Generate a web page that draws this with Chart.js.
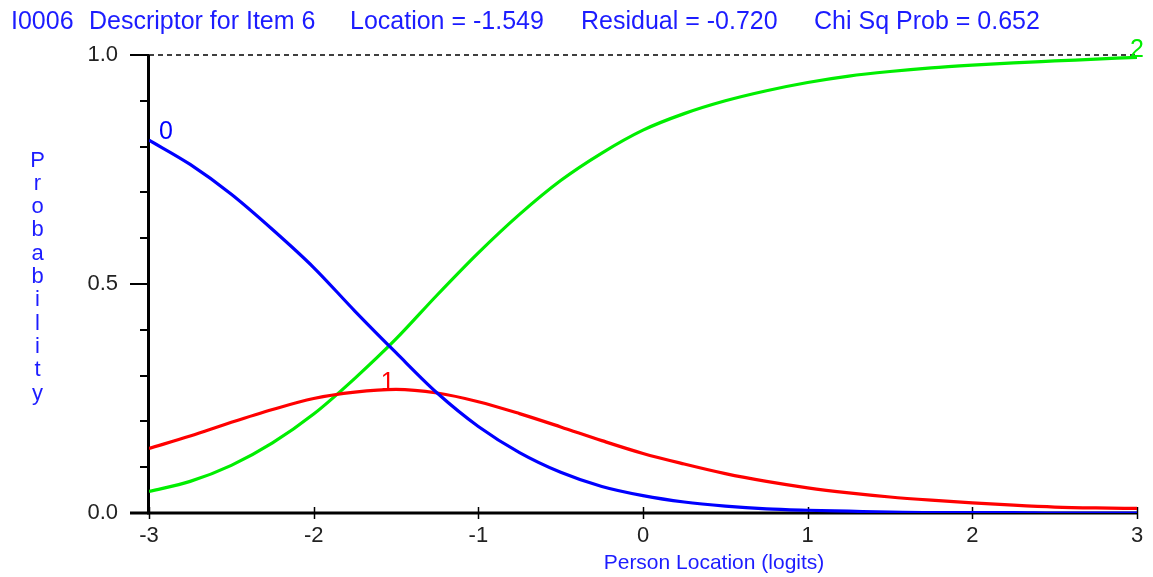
<!DOCTYPE html>
<html>
<head>
<meta charset="utf-8">
<script src="https://cdn.jsdelivr.net/npm/chart.js@4.4.1/dist/chart.umd.min.js"></script>
<style>
  html, body { margin: 0; padding: 0; background: #ffffff; }
  #wrap { width: 1153px; height: 577px; }
</style>
</head>
<body>
<div id="wrap"><canvas id="c" width="1153" height="577"></canvas></div>
<script>
// ---- data ----
const theta = [-3, -2.75, -2.5, -2.25, -2, -1.75, -1.5, -1.25, -1, -0.75, -0.5, -0.25, 0,
               0.25, 0.5, 0.75, 1, 1.25, 1.5, 1.75, 2, 2.25, 2.5, 2.75, 3];
const prob0 = [0.814, 0.761, 0.696, 0.619, 0.536, 0.441, 0.350, 0.262, 0.189, 0.132, 0.089, 0.058, 0.038,
               0.024, 0.015, 0.009, 0.006, 0.004, 0.002, 0.001, 0.001, 0.001, 0.000, 0.000, 0.000];
const prob1 = [0.141, 0.168, 0.198, 0.226, 0.250, 0.264, 0.270, 0.262, 0.243, 0.217, 0.188, 0.158, 0.130,
               0.107, 0.086, 0.069, 0.055, 0.044, 0.035, 0.028, 0.022, 0.017, 0.013, 0.011, 0.010];
const prob2 = [0.047, 0.069, 0.104, 0.153, 0.216, 0.294, 0.380, 0.476, 0.568, 0.652, 0.726, 0.786, 0.836,
               0.872, 0.900, 0.922, 0.940, 0.954, 0.964, 0.972, 0.978, 0.983, 0.987, 0.991, 0.995];
const seriesNames = ['0', '1', '2'];
const seriesColors = ['#0000ff', '#ff0000', '#00ee00'];
const yTickLabels = ['0.0', '0.5', '1.0'];
const yLabelValues = [0, 0.5, 1];
const titleParts = ['I0006', 'Descriptor for Item 6', 'Location = -1.549', 'Residual = -0.720', 'Chi Sq Prob = 0.652'];
const titleX = [11, 89, 350, 581, 814];
const yTitle = 'Probability';
const xTitle = 'Person Location (logits)';

const BLUE_TEXT = '#1c1cff';
const FONT = '"Liberation Sans", Arial, sans-serif';

function pts(arr) { return theta.map((t, i) => ({ x: t, y: arr[i] })); }

const decor = {
  id: 'decor',
  beforeDatasetsDraw(chart) {
    const ctx = chart.ctx, a = chart.chartArea;
    const xs = chart.scales.x, ys = chart.scales.y;
    ctx.save();
    // dashed reference line at 1.0
    ctx.strokeStyle = '#000';
    ctx.lineWidth = 1.5;
    ctx.setLineDash([5, 4]);
    const y1 = ys.getPixelForValue(1);
    ctx.beginPath(); ctx.moveTo(a.left, y1); ctx.lineTo(a.right, y1); ctx.stroke();
    ctx.setLineDash([]);
    // y ticks
    for (let k = 0; k <= 10; k++) {
      const v = k / 10;
      const py = Math.round(ys.getPixelForValue(v));
      const major = (k % 5 === 0);
      ctx.lineWidth = 2;
      ctx.beginPath();
      ctx.moveTo(a.left - (major ? 19 : 9), py);
      ctx.lineTo(a.left, py);
      ctx.stroke();
    }
    // x ticks
    ctx.lineWidth = 1.5;
    for (let t = -3; t <= 3; t++) {
      const px = Math.round(xs.getPixelForValue(t)) + 0.5;
      ctx.beginPath(); ctx.moveTo(px, a.bottom - 6); ctx.lineTo(px, a.bottom + 6); ctx.stroke();
    }
    // axes
    ctx.lineWidth = 3;
    ctx.beginPath(); ctx.moveTo(a.left - 0.5, a.top); ctx.lineTo(a.left - 0.5, a.bottom + 1.5); ctx.stroke();
    ctx.beginPath(); ctx.moveTo(a.left - 19, a.bottom); ctx.lineTo(a.right + 1, a.bottom); ctx.stroke();
    ctx.restore();
  },
  afterDraw(chart) {
    const ctx = chart.ctx;
    const xs = chart.scales.x, ys = chart.scales.y;
    ctx.save();
    // title
    ctx.fillStyle = BLUE_TEXT;
    ctx.font = '25px ' + FONT;
    ctx.textBaseline = 'alphabetic';
    ctx.textAlign = 'left';
    titleParts.forEach((s, i) => ctx.fillText(s, titleX[i], 29));
    // y title, stacked letters
    ctx.font = '22px ' + FONT;
    ctx.textAlign = 'center';
    for (let i = 0; i < yTitle.length; i++) {
      ctx.fillText(yTitle[i], 37.5, 166.5 + i * 23.3);
    }
    // x title
    ctx.font = '21px ' + FONT;
    ctx.textAlign = 'center';
    ctx.fillText(xTitle, 714, 569);
    // curve labels
    ctx.font = '25px ' + FONT;
    ctx.fillStyle = seriesColors[0];
    ctx.textAlign = 'left';
    ctx.fillText(seriesNames[0], xs.getPixelForValue(theta[0]) + 10, ys.getPixelForValue(prob0[0]) - 1);
    ctx.fillStyle = seriesColors[1];
    ctx.textAlign = 'center';
    ctx.fillText(seriesNames[1], xs.getPixelForValue(-1.55), ys.getPixelForValue(0.27) + 1);
    ctx.fillStyle = seriesColors[2];
    ctx.fillText(seriesNames[2], xs.getPixelForValue(3), ys.getPixelForValue(1) + 2);
    ctx.restore();
  }
};

new Chart(document.getElementById('c'), {
  type: 'line',
  data: {
    datasets: [
      { label: seriesNames[0], data: pts(prob0), borderColor: seriesColors[0], borderWidth: 3.2 },
      { label: seriesNames[1], data: pts(prob1), borderColor: seriesColors[1], borderWidth: 3.2 },
      { label: seriesNames[2], data: pts(prob2), borderColor: seriesColors[2], borderWidth: 3.2 }
    ]
  },
  options: {
    responsive: false,
    animation: false,
    devicePixelRatio: 1,
    layout: { padding: { top: 55, right: 16, left: 0, bottom: 0 } },
    elements: {
      point: { radius: 0, hoverRadius: 0 },
      line: { cubicInterpolationMode: 'monotone', fill: false }
    },
    plugins: { legend: { display: false }, tooltip: { enabled: false }, title: { display: false } },
    scales: {
      x: {
        type: 'linear', min: -3, max: 3,
        grid: { display: false }, border: { display: false },
        ticks: { stepSize: 1, color: '#222', font: { family: FONT, size: 22 }, padding: 2, maxRotation: 0 },
        afterFit: s => { s.height = 64; }
      },
      y: {
        type: 'linear', min: 0, max: 1,
        grid: { display: false }, border: { display: false },
        ticks: {
          stepSize: 0.1, autoSkip: false, color: '#222', font: { family: FONT, size: 22 }, padding: 23,
          callback: v => {
            const i = yLabelValues.findIndex(t => Math.abs(t - v) < 1e-6);
            return i >= 0 ? yTickLabels[i] : '';
          }
        },
        afterFit: s => { s.width = 149; }
      }
    }
  },
  plugins: [decor]
});
</script>
</body>
</html>
